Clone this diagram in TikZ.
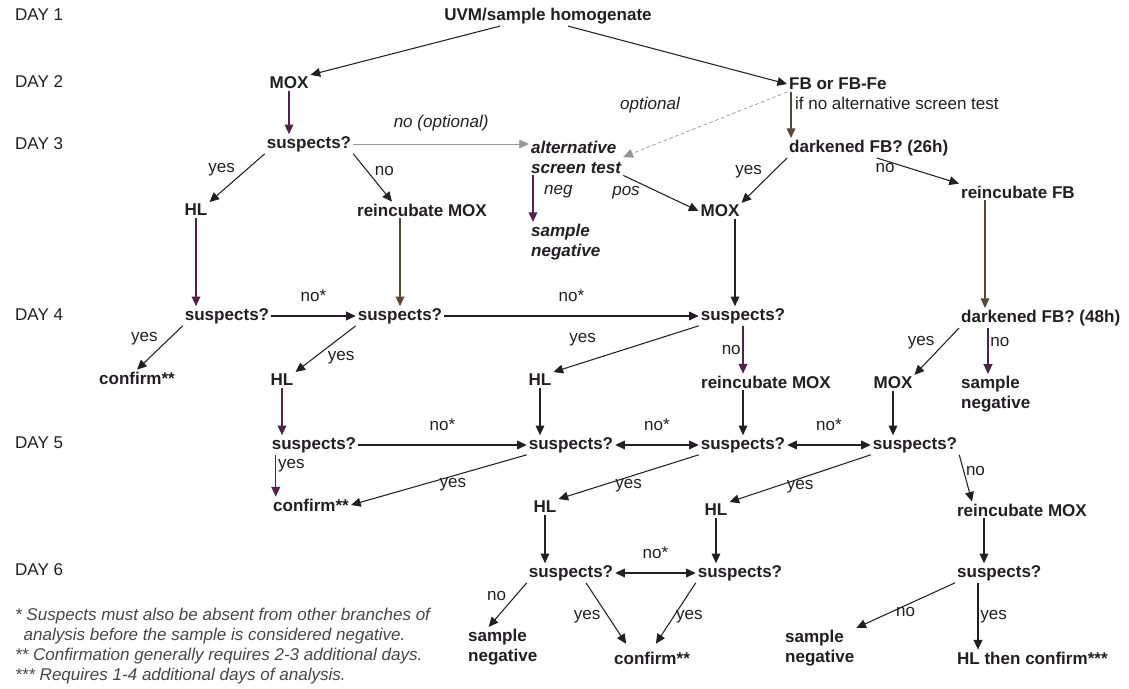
\documentclass[tikz,border=0pt]{standalone}
\usepackage{fontspec}
\setmainfont{Liberation Sans}
\usetikzlibrary{arrows.meta}
\definecolor{ink}{RGB}{35,30,35}
\definecolor{plum}{RGB}{80,35,75}
\definecolor{umber}{RGB}{85,72,55}
\definecolor{faint}{RGB}{150,150,150}
\definecolor{note}{RGB}{70,70,70}
\newcommand{\fsz}{\fontsize{9.7}{11.4}\selectfont}

\begin{document}
\begin{tikzpicture}[x=0.02cm, y=-0.02cm,
        every node/.style={font=\fsz\bfseries, text=ink, inner sep=1pt},
        lbl/.style={font=\fsz},
        opt/.style={font=\fsz\itshape},
        day/.style={font=\fsz, anchor=west},
        col/.style={anchor=west, align=left},
        alt/.style={font=\fsz\bfseries\itshape, anchor=west, align=left},
        notes/.style={font=\fsz\itshape, text=note, anchor=north west, align=left},
        hd/.tip={Triangle[length=5.5pt, width=5pt]},
        arr/.style={draw=ink, line width=0.6pt, -hd},
        dbl/.style={arr, hd-hd},
        thin/.style={arr, draw=faint, line width=0.4pt}
    ]
    \useasboundingbox (0,0) rectangle (1129,689);

    \node[day] (d1) at (13,15) {DAY 1};
    \node[day] (d2) at (13,82) {DAY 2};
    \node[day] (d3) at (13,144) {DAY 3};
    \node[day] (d4) at (13,315) {DAY 4};
    \node[day] (d5) at (13,443) {DAY 5};
    \node[day] (d6) at (13,570) {DAY 6};

    \node (uvm) at (548,16) {UVM/sample homogenate};
    \node (mox2) at (289,83) {MOX};
    \node[col] (fb) at (787,84) {FB or FB-Fe};
    \node[opt] (optl) at (650,105) {optional};

    \node (sus3) at (309,144) {suspects?};
    \node[alt] (alt) at (529,157) {alternative\\screen test};
    \node[col] (dark26) at (787,148) {darkened FB? (26h)};
    \node (hl3) at (196,210) {HL};
    \node (remox3) at (422,210) {reincubate MOX};
    \node[alt] (sneg3) at (529,242) {sample\\negative};
    \node (mox3) at (720,211) {MOX};
    \node[col] (refb) at (959,192) {reincubate FB};

    \node (susA) at (227,316) {suspects?};
    \node (susB) at (400,316) {suspects?};
    \node (susC) at (743,316) {suspects?};
    \node[col] (dark48) at (959,318) {darkened FB? (48h)};
    \node (confA) at (137,378) {confirm**};
    \node (hl4a) at (282,380) {HL};
    \node (hl4b) at (540,380) {HL};
    \node (remox4) at (766,382) {reincubate MOX};
    \node (mox4) at (893,383) {MOX};
    \node[col] (sneg4) at (959,394) {sample\\negative};

    \node (susD) at (314,445) {suspects?};
    \node (susE) at (571,445) {suspects?};
    \node (susF) at (743,445) {suspects?};
    \node (susG) at (915,445) {suspects?};
    \node (confD) at (311,505) {confirm**};
    \node (hl5a) at (545,507) {HL};
    \node (hl5b) at (716,510) {HL};
    \node[col] (remox5) at (955,510) {reincubate MOX};

    \node (susH) at (571,573) {suspects?};
    \node (susI) at (740,573) {suspects?};
    \node[col] (susJ) at (955,573) {suspects?};
    \node[col] (sneg6l) at (466,647) {sample\\negative};
    \node (confI) at (652,658) {confirm**};
    \node[col] (sneg6r) at (783,648) {sample\\negative};
    \node[col] (hlthen) at (955,658) {HL then confirm***};

    \node[notes] (fn) at (13,606) {* Suspects must also be absent from other branches of\\
        \hspace*{0.5em}analysis before the sample is considered negative.\\
        ** Confirmation generally requires 2-3 additional days.\\
        *** Requires 1-4 additional days of analysis.};

    \draw[arr] ([xshift=-.96cm]uvm.south) -- (mox2.north east);
    \draw[arr] ([xshift=.4cm]uvm.south) -- (fb.west);
    \draw[arr, draw=plum] (mox2) -- (mox2 |- sus3.north);
    \draw[thin] (sus3) -- (sus3 -| alt.west) node[opt, midway, above=6pt] {no (optional)};
    \draw[thin, dash pattern=on 2pt off 1.5pt] (fb.south west) -- (alt.east);
    \draw[arr, draw=umber] ([xshift=.08cm]fb.south west) -- ([xshift=.08cm]dark26.north west)
        node[lbl, pos=.25, right=1pt] {if no alternative screen test};
    \draw[arr] (sus3.south west) -- (hl3.north east) node[lbl, midway, above left] {yes};
    \draw[arr] (sus3.south east) -- ([xshift=-.6cm]remox3.north) node[lbl, midway, above right] {no};
    \draw[arr, draw=plum] ([xshift=.08cm]alt.south west) -- ([xshift=.08cm]sneg3.north west)
        node[opt, pos=.35, right=5pt] {neg};
    \draw[arr] (alt.south east) -- (mox3.west) node[opt, pos=.25, below left] {pos};
    \draw[arr] (dark26.south west) -- (mox3.north east) node[lbl, midway, above left] {yes};
    \draw[arr] ([xshift=1.8cm]dark26.south west) -- (refb.north west) node[lbl, pos=.1, below] {no};
    \draw[arr, draw=plum] (hl3) -- (hl3 |- susA.north);
    \draw[arr, draw=umber] (susB |- remox3.south) -- (susB);
    \draw[arr] ([xshift=.3cm]mox3.south) -- ([xshift=.3cm]mox3.south |- susC.north);
    \draw[arr, draw=umber] ([xshift=.52cm]refb.south west) -- ([xshift=.52cm]dark48.north west);

    \draw[arr] (susA) -- (susB) node[lbl, midway, above=7pt] {no*};
    \draw[arr] (susB) -- (susC) node[lbl, midway, above=7pt] {no*};
    \draw[arr] (susA.south west) -- (confA.north) node[lbl, midway, above left] {yes};
    \draw[arr] (susB.south west) -- (hl4a.north east) node[lbl, midway, below right] {yes};
    \draw[arr] (susC.south west) -- (hl4b.north east) node[lbl, pos=.8, above=8pt] {yes};
    \draw[arr, draw=plum] (susC) -- (susC |- remox4.north) node[lbl, midway, left] {no};
    \draw[arr] (dark48.south west) -- (mox4.north east) node[lbl, midway, above left] {yes};
    \draw[arr, draw=plum] ([xshift=.58cm]dark48.south west) -- ([xshift=.58cm]sneg4.north west)
        node[lbl, pos=.3, right] {no};
    \draw[arr, draw=plum] (hl4a) -- (hl4a |- susD.north);
    \draw[arr] (hl4b) -- (hl4b |- susE.north);
    \draw[arr] (susF |- remox4.south) -- (susF);
    \draw[arr] (mox4) -- (mox4 |- susG.north);

    \draw[arr] (susD) -- (susE) node[lbl, midway, above=7pt] {no*};
    \draw[dbl] (susE) -- (susF) node[lbl, midway, above=7pt] {no*};
    \draw[dbl] (susF) -- (susG) node[lbl, midway, above=7pt] {no*};
    \draw[arr, draw=plum] ([xshift=.12cm]susD.south west) -- ([xshift=.12cm]susD.south west |- confD.north)
        node[lbl, pos=.25, right=0pt] {yes};
    \draw[arr] (susE.south west) -- (confD.east) node[lbl, pos=.42, below] {yes};
    \draw[arr] (susF.south west) -- (hl5a.north east) node[lbl, midway, below] {yes};
    \draw[arr] (susG.south west) -- (hl5b.north east) node[lbl, midway, below] {yes};
    \draw[arr] (susG.south east) -- ([xshift=.34cm]remox5.north west) node[lbl, pos=.35, right] {no};
    \draw[arr] (hl5a) -- (hl5a |- susH.north);
    \draw[arr] (hl5b) -- (hl5b |- susI.north);
    \draw[arr] ([xshift=.58cm]remox5.south west) -- ([xshift=.58cm]susJ.north west);

    \draw[dbl] (susH) -- (susI) node[lbl, midway, above=7pt] {no*};
    \draw[arr] (susH.south west) -- ([xshift=-.28cm]sneg6l.north) node[lbl, pos=.3, left=4pt] {no};
    \draw[arr, shorten >=4pt] ([xshift=.3cm]susH.south) -- ([xshift=-.44cm]confI.north)
        node[lbl, midway, left=3pt] {yes};
    \draw[arr, shorten >=4pt] (susI.south west) -- (confI.north) node[lbl, midway, right] {yes};
    \draw[arr] (susJ.south west) -- (sneg6r.north east) node[lbl, midway, below] {no};
    \draw[arr] ([xshift=.46cm]susJ.south west) -- ([xshift=.46cm]hlthen.north west)
        node[lbl, midway, right] {yes};
\end{tikzpicture}
\end{document}
